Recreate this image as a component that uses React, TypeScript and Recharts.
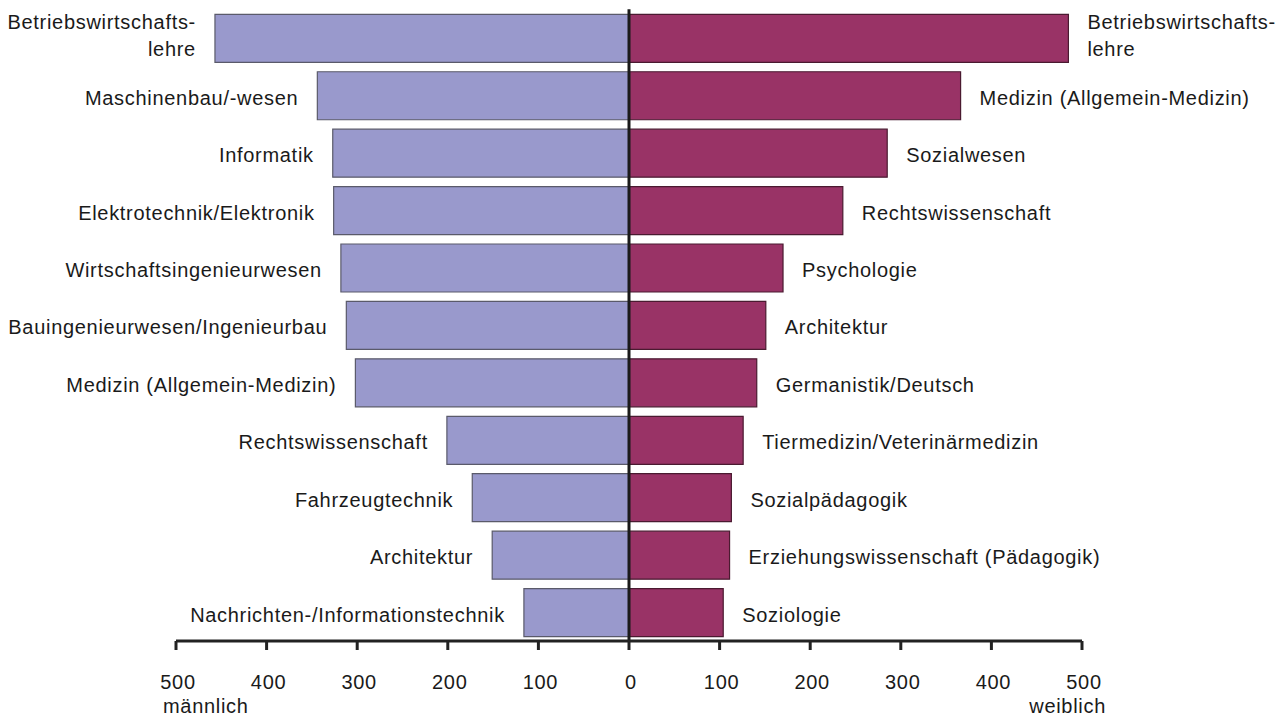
import React from "react";
import { BarChart, Bar, XAxis, YAxis, ReferenceLine, LabelList } from "recharts";

const maleLabels = [
  "Betriebswirtschafts-\nlehre",
  "Maschinenbau/-wesen",
  "Informatik",
  "Elektrotechnik/Elektronik",
  "Wirtschaftsingenieurwesen",
  "Bauingenieurwesen/Ingenieurbau",
  "Medizin (Allgemein-Medizin)",
  "Rechtswissenschaft",
  "Fahrzeugtechnik",
  "Architektur",
  "Nachrichten-/Informationstechnik",
];
const maleValues = [457, 344, 327, 326, 318, 312, 302, 201, 173, 151, 116];

const femaleLabels = [
  "Betriebswirtschafts-\nlehre",
  "Medizin (Allgemein-Medizin)",
  "Sozialwesen",
  "Rechtswissenschaft",
  "Psychologie",
  "Architektur",
  "Germanistik/Deutsch",
  "Tiermedizin/Veterinärmedizin",
  "Sozialpädagogik",
  "Erziehungswissenschaft (Pädagogik)",
  "Soziologie",
];
const femaleValues = [485, 366, 285, 236, 170, 151, 141, 126, 113, 111, 104];

const xTicks = [-500, -400, -300, -200, -100, 0, 100, 200, 300, 400, 500];
const leftAxisTitle = "männlich";
const rightAxisTitle = "weiblich";

const data = maleValues.map((m, i) => ({
  row: i,
  male: -m,
  female: femaleValues[i],
}));

const FONT = "'Liberation Sans', Arial, sans-serif";
const FS = 20;
const LS = 0.7;
const TEXT = "#1a1a1a";

const makeLabel = (side: "left" | "right", labels: string[]) => (props: any) => {
  const { x, y, width, height, index } = props;
  const x1 = Math.min(x, x + width);
  const x2 = Math.max(x, x + width);
  const cy = y + height / 2;
  const lines = labels[index].split("\n");
  const lh = 27;
  const startY = lines.length > 1 ? cy - 3 - ((lines.length - 1) * lh) / 2 : cy + 2;
  const tx = side === "left" ? x1 - 19 : x2 + 19;
  return (
    <text
      x={tx}
      y={startY}
      textAnchor={side === "left" ? "end" : "start"}
      dominantBaseline="central"
      fontFamily={FONT}
      fontSize={FS}
      letterSpacing={LS}
      fill={TEXT}
    >
      {lines.map((l, k) => (
        <tspan key={k} x={tx} y={startY + k * lh} dominantBaseline="central">
          {l}
        </tspan>
      ))}
    </text>
  );
};

const Tick = (props: any) => {
  const { x, y, payload } = props;
  const v = payload.value as number;
  return (
    <g>
      <text
        x={x + 2}
        y={y + 30}
        textAnchor="middle"
        dominantBaseline="central"
        fontFamily={FONT}
        fontSize={FS}
        letterSpacing={LS}
        fill={TEXT}
      >
        {Math.abs(v)}
      </text>
      {v === -500 && (
        <text x={x - 13} y={y + 54} textAnchor="start" dominantBaseline="central" fontFamily={FONT} fontSize={FS} letterSpacing={LS} fill={TEXT}>
          {leftAxisTitle}
        </text>
      )}
      {v === 500 && (
        <text x={x + 24} y={y + 54} textAnchor="end" dominantBaseline="central" fontFamily={FONT} fontSize={FS} letterSpacing={LS} fill={TEXT}>
          {rightAxisTitle}
        </text>
      )}
    </g>
  );
};

export default function App() {
  return (
    <div style={{ width: 1271, height: 711, background: "#fff" }}>
      <BarChart
        width={1271}
        height={711}
        data={data}
        layout="vertical"
        stackOffset="sign"
        barSize={48}
        margin={{ top: 1.3, right: 197, bottom: 18, left: 168 }}
      >
        <XAxis
          type="number"
          domain={[-500, 500]}
          ticks={xTicks}
          height={60}
          interval={0}
          tickSize={9}
          tickMargin={2}
          axisLine={{ stroke: "#222", strokeWidth: 3 }}
          tickLine={{ stroke: "#222", strokeWidth: 3 }}
          tick={<Tick />}
        />
        <YAxis type="category" dataKey="row" hide />
        <Bar dataKey="male" stackId="a" fill="#9999CC" stroke="#5a5a6a" strokeWidth={1.2} isAnimationActive={false}>
          <LabelList dataKey="male" content={makeLabel("left", maleLabels)} />
        </Bar>
        <Bar dataKey="female" stackId="a" fill="#993366" stroke="#4a1a30" strokeWidth={1.2} isAnimationActive={false}>
          <LabelList dataKey="female" content={makeLabel("right", femaleLabels)} />
        </Bar>
        <ReferenceLine x={0} stroke="#1a1a1a" strokeWidth={3} ifOverflow="extendDomain" />
      </BarChart>
    </div>
  );
}
